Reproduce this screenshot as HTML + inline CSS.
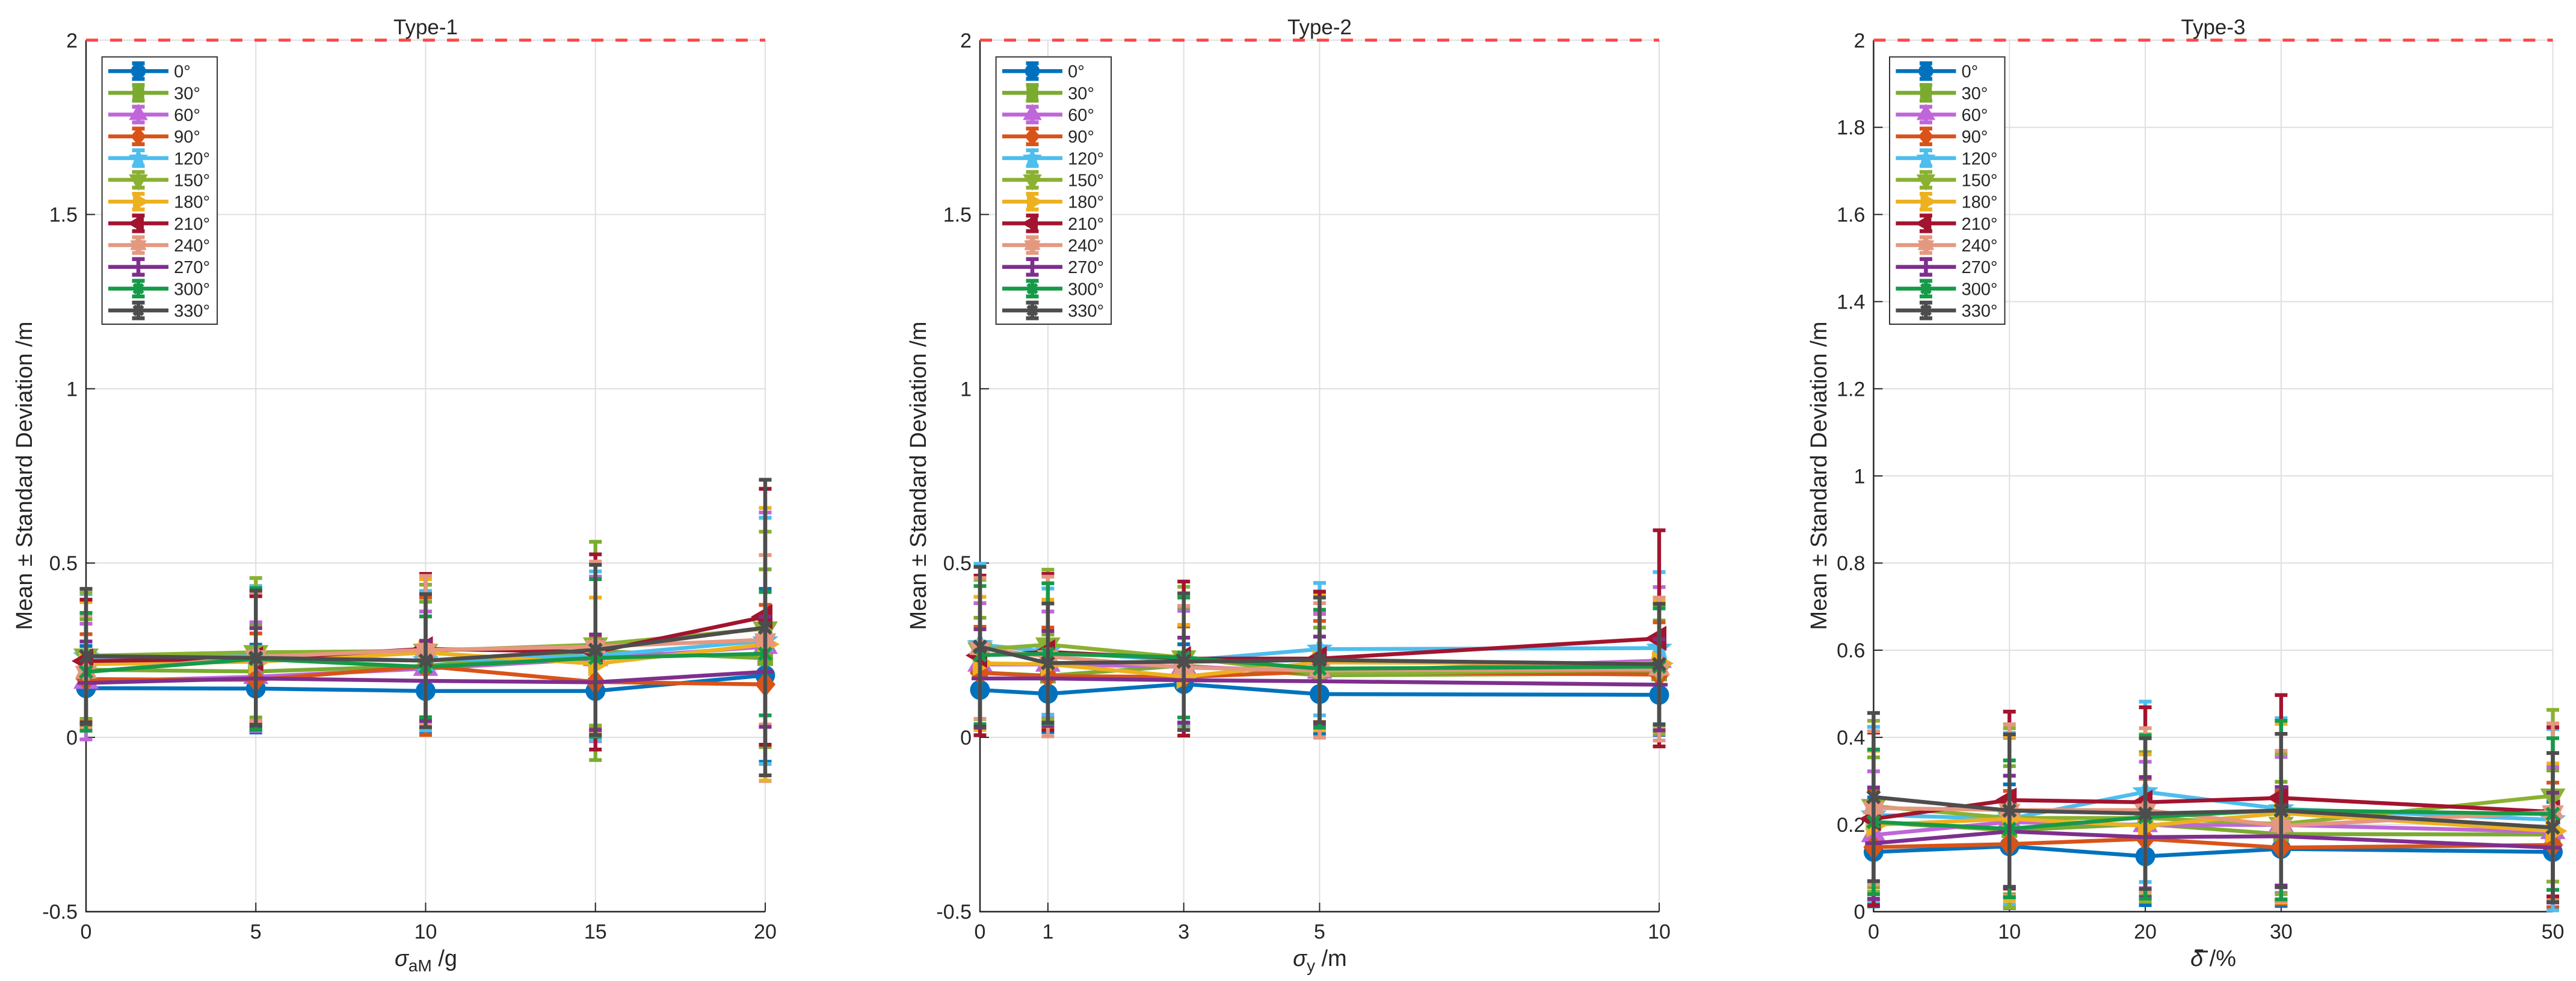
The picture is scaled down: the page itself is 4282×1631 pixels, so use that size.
<!DOCTYPE html>
<html lang="en">
<head>
<meta charset="utf-8">
<title>Mean and standard deviation by type</title>
<style>
html,body{margin:0;padding:0;background:#fff;}
svg{display:block;}
text{font-family:"Liberation Sans",Arial,sans-serif;fill:#262626;}
.title{font-size:35px;text-anchor:middle;}
.ylab{font-size:38px;text-anchor:middle;}
.xlab{font-size:38px;text-anchor:middle;}
.sub{font-size:28px;}
.tick{font-size:34px;}
.leg{font-size:29px;}
</style>
</head>
<body>
<svg id="figure" xmlns="http://www.w3.org/2000/svg" width="4282" height="1631" viewBox="0 0 4282 1631">
  <rect x="0" y="0" width="4282" height="1631" fill="#ffffff"/>

  <g id="panel-1"></g>
  <g id="panel-2"></g>
  <g id="panel-3"></g>

  <g>
    <text class="title" x="707.5" y="57">Type-1</text>
    <text class="ylab" transform="translate(53 791) rotate(-90)">Mean ± Standard Deviation /m</text>
    <text class="xlab" x="708" y="1606"><tspan font-style="italic">σ</tspan><tspan class="sub" dy="9">aM</tspan><tspan dy="-9">&#160;/g</tspan></text>
  </g>
  <g>
    <text class="title" x="2193.5" y="57">Type-2</text>
    <text class="ylab" transform="translate(1539 791) rotate(-90)">Mean ± Standard Deviation /m</text>
    <text class="xlab" x="2194" y="1606"><tspan font-style="italic">σ</tspan><tspan class="sub" dy="9">y</tspan><tspan dy="-9">&#160;/m</tspan></text>
  </g>
  <g>
    <text class="title" x="3679" y="57">Type-3</text>
    <text class="ylab" transform="translate(3036 791) rotate(-90)">Mean ± Standard Deviation /m</text>
    <text class="xlab" x="3679" y="1606"><tspan font-style="italic">δ</tspan><tspan>&#160;/%</tspan></text>
    <line x1="3648" y1="1582" x2="3670" y2="1582" stroke="#262626" stroke-width="3"/>
  </g>
</svg>

<script>
// Shared legend and style values
const seriesLabels = ['0°','30°','60°','90°','120°','150°','180°','210°','240°','270°','300°','330°'];
const seriesIds = ['0','30','60','90','120','150','180','210','240','270','300','330'];
const seriesColors = ['#0072BD','#7AAB2F','#BF66D9','#D95319','#4DBEEE','#8AB132','#EDB120','#A2142F','#E59880','#7E2F8E','#159A48','#4D4D4D'];
const seriesMarkers = ['circle','square','up','diamond','pentagram','down','right','left','hexagram','plus','cross','asterisk'];

// Type-1
const type1X = [0,5,10,15,20];
const type1XTicks = ['0','5','10','15','20'];
const type1YTickValues = [-0.5,0,0.5,1,1.5,2];
const type1YTicks = ['-0.5','0','0.5','1','1.5','2'];
const type1Threshold = 2;
const type1Means = [
  [.141,.14,.133,.133,.178],
  [.194,.189,.205,.248,.227],
  [.16,.174,.197,.225,.26],
  [.167,.165,.204,.159,.152],
  [.231,.234,.22,.234,.277],
  [.234,.244,.248,.266,.312],
  [.21,.217,.243,.211,.267],
  [.219,.225,.254,.245,.346],
  [.187,.231,.251,.26,.28],
  [.156,.169,.162,.158,.188],
  [.188,.225,.202,.228,.24],
  [.233,.228,.22,.251,.315]
];
const type1Stds = [
  [.121,.126,.12,.115,.248],
  [.145,.132,.184,.313,.255],
  [.166,.156,.164,.236,.385],
  [.129,.133,.197,.13,.228],
  [.18,.2,.2,.242,.353],
  [.181,.213,.19,.232,.278],
  [.178,.19,.211,.19,.391],
  [.176,.18,.215,.28,.367],
  [.164,.184,.212,.244,.243],
  [.119,.144,.115,.137,.158],
  [.169,.203,.145,.226,.177],
  [.193,.193,.191,.244,.424]
];

// Type-2
const type2X = [0,1,3,5,10];
const type2XTicks = ['0','1','3','5','10'];
const type2YTickValues = [-0.5,0,0.5,1,1.5,2];
const type2YTicks = ['-0.5','0','0.5','1','1.5','2'];
const type2Threshold = 2;
const type2Means = [
  [.136,.125,.153,.124,.122],
  [.186,.177,.206,.178,.183],
  [.209,.209,.203,.189,.22],
  [.185,.176,.173,.189,.18],
  [.266,.246,.22,.253,.256],
  [.252,.266,.229,.183,.194],
  [.212,.21,.174,.215,.212],
  [.235,.245,.226,.226,.284],
  [.255,.232,.2,.192,.196],
  [.169,.169,.164,.161,.151],
  [.236,.24,.229,.197,.203],
  [.26,.213,.217,.222,.21]
];
const type2Stds = [
  [.11,.11,.114,.115,.115],
  [.157,.118,.168,.137,.152],
  [.176,.152,.16,.165,.211],
  [.132,.139,.145,.145,.15],
  [.232,.181,.188,.19,.218],
  [.2,.215,.203,.182,.182],
  [.191,.185,.149,.195,.181],
  [.229,.224,.221,.192,.31],
  [.202,.229,.177,.193,.205],
  [.141,.136,.122,.128,.131],
  [.198,.202,.172,.169,.167],
  [.229,.171,.196,.179,.173]
];

// Type-3
const type3X = [0,10,20,30,50];
const type3XTicks = ['0','10','20','30','50'];
const type3YTickValues = [0,0.2,0.4,0.6,0.8,1,1.2,1.4,1.6,1.8,2];
const type3YTicks = ['0','0.2','0.4','0.6','0.8','1','1.2','1.4','1.6','1.8','2'];
const type3Threshold = 2;
const type3Means = [
  [.137,.15,.127,.144,.137],
  [.205,.187,.201,.178,.177],
  [.176,.206,.199,.199,.183],
  [.148,.155,.167,.147,.153],
  [.222,.213,.275,.236,.211],
  [.242,.215,.215,.201,.266],
  [.199,.213,.197,.226,.185],
  [.213,.256,.251,.261,.229],
  [.238,.233,.233,.197,.229],
  [.157,.184,.171,.173,.147],
  [.206,.19,.217,.233,.224],
  [.263,.232,.225,.232,.193]
];
const type3Stds = [
  [.125,.142,.112,.131,.115],
  [.149,.147,.165,.12,.147],
  [.146,.193,.145,.156,.149],
  [.131,.122,.138,.13,.143],
  [.202,.197,.207,.208,.208],
  [.196,.206,.192,.161,.197],
  [.17,.188,.164,.205,.155],
  [.198,.203,.218,.236,.194],
  [.176,.197,.188,.172,.203],
  [.128,.128,.138,.113,.126],
  [.166,.157,.187,.205,.174],
  [.193,.175,.173,.176,.171]
];

const SVG_NS = 'http://www.w3.org/2000/svg';

function node(tag, attrs, parent) {
  const e = document.createElementNS(SVG_NS, tag);
  for (const k in attrs) { e.setAttribute(k, attrs[k]); }
  parent.appendChild(e);
  return e;
}

function starPoints(cx, cy, outer, inner, count, start) {
  const pts = [];
  for (let i = 0; i < count * 2; i++) {
    const r = i % 2 === 0 ? outer : inner;
    const a = start + i * Math.PI / count;
    pts.push((cx + r * Math.cos(a)).toFixed(2) + ',' + (cy + r * Math.sin(a)).toFixed(2));
  }
  return pts.join(' ');
}

function tri(cx, cy, k, ax, ay, bx, by, dx, dy) {
  return [[ax,ay],[bx,by],[dx,dy]].map(function (p) {
    return (cx + p[0] * k).toFixed(2) + ',' + (cy + p[1] * k).toFixed(2);
  }).join(' ');
}

function drawMarker(parent, kind, cx, cy, color, k, name) {
  let m;
  if (kind === 'circle') {
    m = node('circle', {cx: cx, cy: cy, r: 16.5 * k, fill: color}, parent);
  } else if (kind === 'square') {
    m = node('rect', {x: cx - 13 * k, y: cy - 13 * k, width: 26 * k, height: 26 * k, fill: color}, parent);
  } else if (kind === 'up') {
    m = node('polygon', {points: tri(cx, cy, k, 0, -24, 21, 12, -21, 12), fill: color}, parent);
  } else if (kind === 'down') {
    m = node('polygon', {points: tri(cx, cy, k, 0, 24, 21, -12, -21, -12), fill: color}, parent);
  } else if (kind === 'right') {
    m = node('polygon', {points: tri(cx, cy, k, 24, 0, -12, -21, -12, 21), fill: color}, parent);
  } else if (kind === 'left') {
    m = node('polygon', {points: tri(cx, cy, k, -24, 0, 12, -21, 12, 21), fill: color}, parent);
  } else if (kind === 'diamond') {
    m = node('polygon', {points: [cx + ',' + (cy - 21 * k), (cx + 17 * k) + ',' + cy, cx + ',' + (cy + 21 * k), (cx - 17 * k) + ',' + cy].join(' '), fill: color}, parent);
  } else if (kind === 'pentagram') {
    m = node('polygon', {points: starPoints(cx, cy, 23 * k, 10 * k, 5, -Math.PI / 2), fill: color}, parent);
  } else if (kind === 'hexagram') {
    m = node('polygon', {points: starPoints(cx, cy, 21 * k, 13 * k, 6, -Math.PI / 2), fill: color}, parent);
  } else if (kind === 'plus') {
    const r = 14 * k;
    m = node('path', {d: 'M' + (cx - r) + ' ' + cy + 'H' + (cx + r) + 'M' + cx + ' ' + (cy - r) + 'V' + (cy + r), stroke: color, 'stroke-width': 6, fill: 'none'}, parent);
  } else if (kind === 'cross') {
    const r = 10 * k;
    m = node('path', {d: 'M' + (cx - r) + ' ' + (cy - r) + 'L' + (cx + r) + ' ' + (cy + r) + 'M' + (cx - r) + ' ' + (cy + r) + 'L' + (cx + r) + ' ' + (cy - r), stroke: color, 'stroke-width': 6, fill: 'none'}, parent);
  } else {
    const r = 10 * k;
    const p = 14 * k;
    m = node('path', {d: 'M' + (cx - r) + ' ' + (cy - r) + 'L' + (cx + r) + ' ' + (cy + r) + 'M' + (cx - r) + ' ' + (cy + r) + 'L' + (cx + r) + ' ' + (cy - r) + 'M' + cx + ' ' + (cy - p) + 'V' + (cy + p), stroke: color, 'stroke-width': 6, fill: 'none'}, parent);
  }
  
  
}

function drawPanel(cfg) {
  const root = document.getElementById(cfg.id);
  const xMin = cfg.x[0];
  const xMax = cfg.x[cfg.x.length - 1];
  const yMin = cfg.yValues[0];
  const yMax = cfg.yValues[cfg.yValues.length - 1];
  const xOf = function (v) { return cfg.left + (v - xMin) / (xMax - xMin) * (cfg.right - cfg.left); };
  const yOf = function (v) { return cfg.bottom + (v - yMin) / (yMax - yMin) * (cfg.top - cfg.bottom); };

  const grid = node('g', {stroke: '#dfdfdf', 'stroke-width': 2}, root);
  
  
  cfg.x.forEach(function (v) {
    const l = node('line', {x1: xOf(v), x2: xOf(v), y1: cfg.top, y2: cfg.bottom}, grid);
    
    
  });
  cfg.yValues.forEach(function (v) {
    const l = node('line', {x1: cfg.left, x2: cfg.right, y1: yOf(v), y2: yOf(v)}, grid);
    
    
  });

  const axes = node('g', {stroke: '#262626', 'stroke-width': 2}, root);
  
  
  const yAxis = node('line', {x1: cfg.left, x2: cfg.left, y1: cfg.top, y2: cfg.bottom + 1, 'stroke-width': 2.5}, axes);
  
  
  const xAxis = node('line', {x1: cfg.left, x2: cfg.right, y1: cfg.bottom, y2: cfg.bottom, 'stroke-width': 2.5}, axes);
  
  

  cfg.x.forEach(function (v, i) {
    const t = node('line', {x1: xOf(v), x2: xOf(v), y1: cfg.bottom, y2: cfg.bottom - 15}, axes);
    
    
    const label = node('text', {class: 'tick', x: xOf(v), y: cfg.bottom + 45, 'text-anchor': 'middle', stroke: 'none'}, root);
    
    
    label.textContent = cfg.xLabels[i];
  });
  cfg.yValues.forEach(function (v, i) {
    const t = node('line', {x1: cfg.left, x2: cfg.left + 15, y1: yOf(v), y2: yOf(v)}, axes);
    
    
    const label = node('text', {class: 'tick', x: cfg.left - 14, y: yOf(v) + 12, 'text-anchor': 'end', stroke: 'none'}, root);
    
    
    label.textContent = cfg.yLabels[i];
  });

  const threshold = node('line', {x1: xOf(xMin), x2: xOf(xMax), y1: yOf(cfg.threshold), y2: yOf(cfg.threshold), stroke: '#ff4747', 'stroke-width': 5, 'stroke-dasharray': '20 20'}, root);
  
  

  const capHalf = 10.5;
  seriesIds.forEach(function (id, s) {
    const color = seriesColors[s];
    const group = node('g', {}, root);
    
    

    const pts = cfg.x.map(function (v, i) { return xOf(v) + ',' + yOf(cfg.means[s][i]); }).join(' ');
    const line = node('polyline', {points: pts, fill: 'none', stroke: color, 'stroke-width': 6.5, 'stroke-linejoin': 'miter'}, group);
    
    

    cfg.x.forEach(function (v, i) {
      const px = xOf(v);
      const hi = yOf(cfg.means[s][i] + cfg.stds[s][i]);
      const lo = yOf(cfg.means[s][i] - cfg.stds[s][i]);
      const bar = node('path', {
        d: 'M' + px + ' ' + hi + 'V' + lo +
           'M' + (px - capHalf) + ' ' + hi + 'H' + (px + capHalf) +
           'M' + (px - capHalf) + ' ' + lo + 'H' + (px + capHalf),
        fill: 'none', stroke: color, 'stroke-width': 6.3
      }, group);
      
      
      drawMarker(group, seriesMarkers[s], px, yOf(cfg.means[s][i]), color, 1, 'mean-marker');
    });
  });

  const legendLeft = cfg.left + 26.6;
  const legend = node('g', {}, root);
  
  
  const box = node('rect', {x: legendLeft, y: 94.6, width: 191.5, height: 444.4, fill: '#ffffff', stroke: '#333333', 'stroke-width': 2}, legend);
  
  
  seriesLabels.forEach(function (text, s) {
    const color = seriesColors[s];
    const cy = 118.2 + s * 36.17;
    const cx = legendLeft + 60.4;
    const entry = node('g', {}, legend);
    
    
    const sample = node('path', {
      d: 'M' + (cx - 50) + ' ' + cy + 'H' + (cx + 50) +
         'M' + cx + ' ' + (cy - 13) + 'V' + (cy + 13) +
         'M' + (cx - 10.5) + ' ' + (cy - 13) + 'H' + (cx + 10.5) +
         'M' + (cx - 10.5) + ' ' + (cy + 13) + 'H' + (cx + 10.5),
      fill: 'none', stroke: color, 'stroke-width': 6.5
    }, entry);
    
    
    drawMarker(entry, seriesMarkers[s], cx, cy, color, 0.75, 'legend-marker');
    const label = node('text', {class: 'leg', x: legendLeft + 119.5, y: cy + 10.5}, entry);
    
    
    label.textContent = text;
  });
}

drawPanel({id: 'panel-1', prefix: 'type-1', left: 143, right: 1272, top: 66.8, bottom: 1515.7,
  x: type1X, xLabels: type1XTicks, yValues: type1YTickValues, yLabels: type1YTicks,
  threshold: type1Threshold, means: type1Means, stds: type1Stds});
drawPanel({id: 'panel-2', prefix: 'type-2', left: 1629, right: 2758, top: 66.8, bottom: 1515.7,
  x: type2X, xLabels: type2XTicks, yValues: type2YTickValues, yLabels: type2YTicks,
  threshold: type2Threshold, means: type2Means, stds: type2Stds});
drawPanel({id: 'panel-3', prefix: 'type-3', left: 3114.4, right: 4243.5, top: 66.8, bottom: 1515.7,
  x: type3X, xLabels: type3XTicks, yValues: type3YTickValues, yLabels: type3YTicks,
  threshold: type3Threshold, means: type3Means, stds: type3Stds});
</script>
</body>
</html>
